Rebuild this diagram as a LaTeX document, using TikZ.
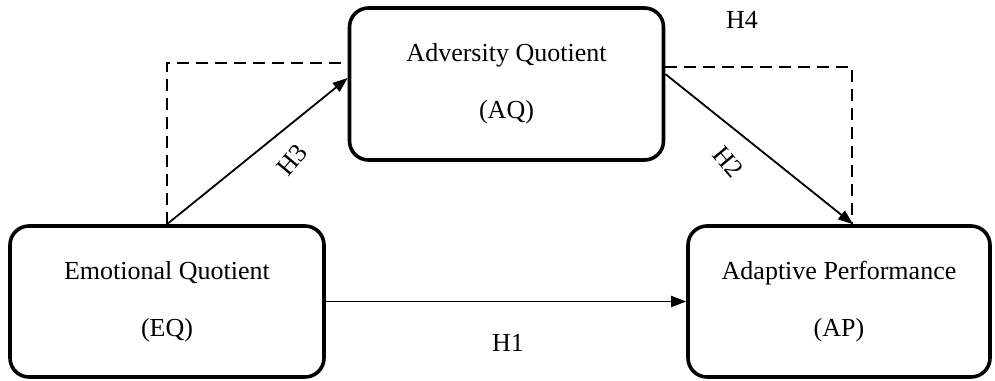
\documentclass[tikz,border=0pt]{standalone}
\usepackage{fontspec}
\setmainfont{Liberation Serif}
\usetikzlibrary{arrows.meta}
\tikzset{every path/.style={black,line width=1.8pt},
  construct/.style={draw,rectangle,rounded corners=19pt,line width=3.6pt,align=center,font=\fontsize{26}{57}\selectfont},
  hyp/.style={-{Triangle[length=15pt,width=11pt]}},
  med/.style={dash pattern=on 12pt off 7pt},
  hlabel/.style={font=\fontsize{26}{30}\selectfont,inner sep=2pt}}

\begin{document}
\begin{tikzpicture}[x=1pt,y=-1pt]
  \useasboundingbox (0,0) rectangle (995,380);
  \node[construct,minimum width=314pt,minimum height=151pt] (eq) at (167,301.5) {Emotional Quotient\\(EQ)};
  \node[construct,minimum width=314pt,minimum height=152pt] (aq) at (506.5,84) {Adversity Quotient\\(AQ)};
  \node[construct,minimum width=302pt,minimum height=151pt] (ap) at (839,301.5) {Adaptive Performance\\(AP)};
  % direct and indirect paths
  \draw[hyp] (eq.east) -- (ap.west);
  \draw[hyp] (eq.north) -- ([yshift=6pt]aq.west);
  \draw[hyp] ([yshift=10pt]aq.east) -- ([xshift=14pt]ap.north);
  \draw[med] (eq.north) |- ([yshift=21pt]aq.west);
  \draw[med] ([yshift=17pt]aq.east) -| ([xshift=13pt]ap.north);
  \node[hlabel] (h1) at (508,343) {H1};
  \node[hlabel,rotate=50] (h3) at (292,160) {H3};
  \node[hlabel,rotate=-50] (h2) at (728,162) {H2};
  \node[hlabel] (h4) at (742,20) {H4};
\end{tikzpicture}
\end{document}
